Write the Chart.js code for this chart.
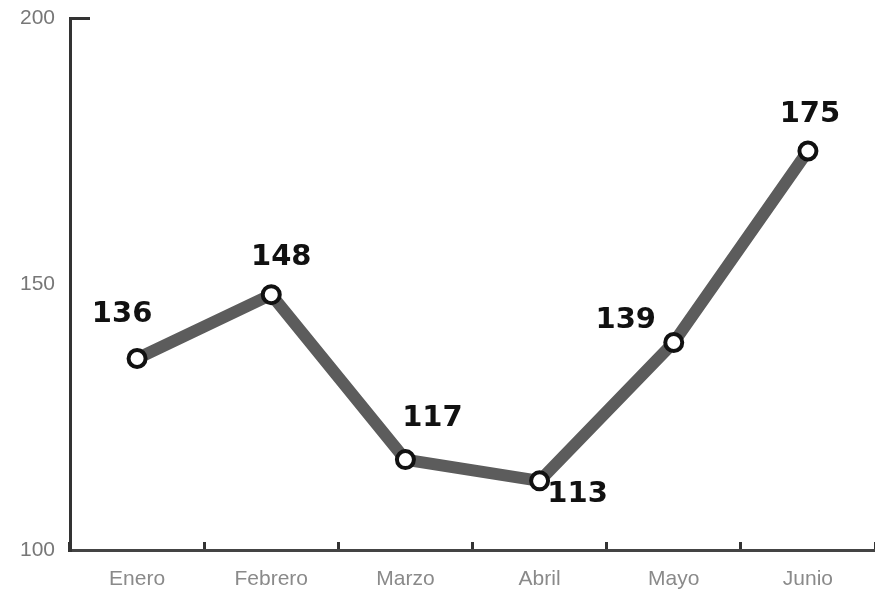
<!DOCTYPE html>
<html>
<head>
<meta charset="utf-8">
<script src="https://cdn.jsdelivr.net/npm/chart.js@4"></script>
<style>
  html, body { margin: 0; padding: 0; background: #fff; }
  #wrap { width: 875px; height: 592px; }
</style>
</head>
<body>
<div id="wrap"><canvas id="myChart" width="875" height="592"></canvas></div>
<script>
const meses = ['Enero', 'Febrero', 'Marzo', 'Abril', 'Mayo', 'Junio'];
const valores = [136, 148, 117, 113, 139, 175];
const yTicks = [100, 150, 200];

// where each value label sits relative to its point
const labelOffsets = [[-15, -44], [10, -37], [27, -41], [38, 14], [-48, -22], [2, -37]];

const valueLabels = {
    id: 'valueLabels',
    afterDatasetsDraw(chart) {
        const ctx = chart.ctx;
        const meta = chart.getDatasetMeta(0);
        ctx.save();
        ctx.font = 'bold 29px "DejaVu Sans", sans-serif';
        ctx.fillStyle = '#111';
        ctx.textAlign = 'center';
        ctx.textBaseline = 'middle';
        meta.data.forEach((pt, i) => {
            const [dx, dy] = labelOffsets[i];
            ctx.fillText(String(valores[i]), pt.x + dx, pt.y + dy);
        });
        ctx.restore();
    }
};

new Chart(document.getElementById('myChart'), {
    type: 'line',
    data: {
        labels: meses,
        datasets: [{
            data: valores,
            borderColor: '#5c5c5c',
            borderWidth: 12,
            pointRadius: 8.5,
            pointBorderWidth: 4,
            pointBackgroundColor: '#fff',
            pointBorderColor: '#111',
            tension: 0
        }]
    },
    options: {
        responsive: false,
        animation: false,
        layout: { autoPadding: false, padding: { top: 18, right: 0, left: 0, bottom: 0 } },
        plugins: { legend: { display: false }, tooltip: { enabled: false } },
        scales: {
            x: {
                offset: true,
                grid: { offset: true, drawOnChartArea: false, tickLength: -8, color: '#333', lineWidth: 3 },
                border: { color: '#444', width: 3 },
                ticks: { padding: 25, color: '#8a8a8a', font: { family: '"Liberation Sans", Arial, sans-serif', size: 21 } },
                afterFit(scale) { scale.height = 42; scale.paddingLeft = 0; scale.paddingRight = 0; }
            },
            y: {
                min: yTicks[0], max: yTicks[yTicks.length - 1],
                afterBuildTicks(scale) { scale.ticks = yTicks.map(v => ({ value: v })); },
                grid: {
                    drawOnChartArea: false, tickLength: -20, lineWidth: 3,
                    color: c => (c.tick && c.tick.value === 200) ? '#333' : 'rgba(0,0,0,0)'
                },
                border: { color: '#333', width: 3 },
                ticks: { padding: 35, color: '#777', font: { family: '"Liberation Sans", Arial, sans-serif', size: 21 } },
                afterFit(scale) { scale.width = 70; scale.paddingTop = 0; scale.paddingBottom = 0; }
            }
        }
    },
    plugins: [valueLabels]
});
</script>
</body>
</html>
